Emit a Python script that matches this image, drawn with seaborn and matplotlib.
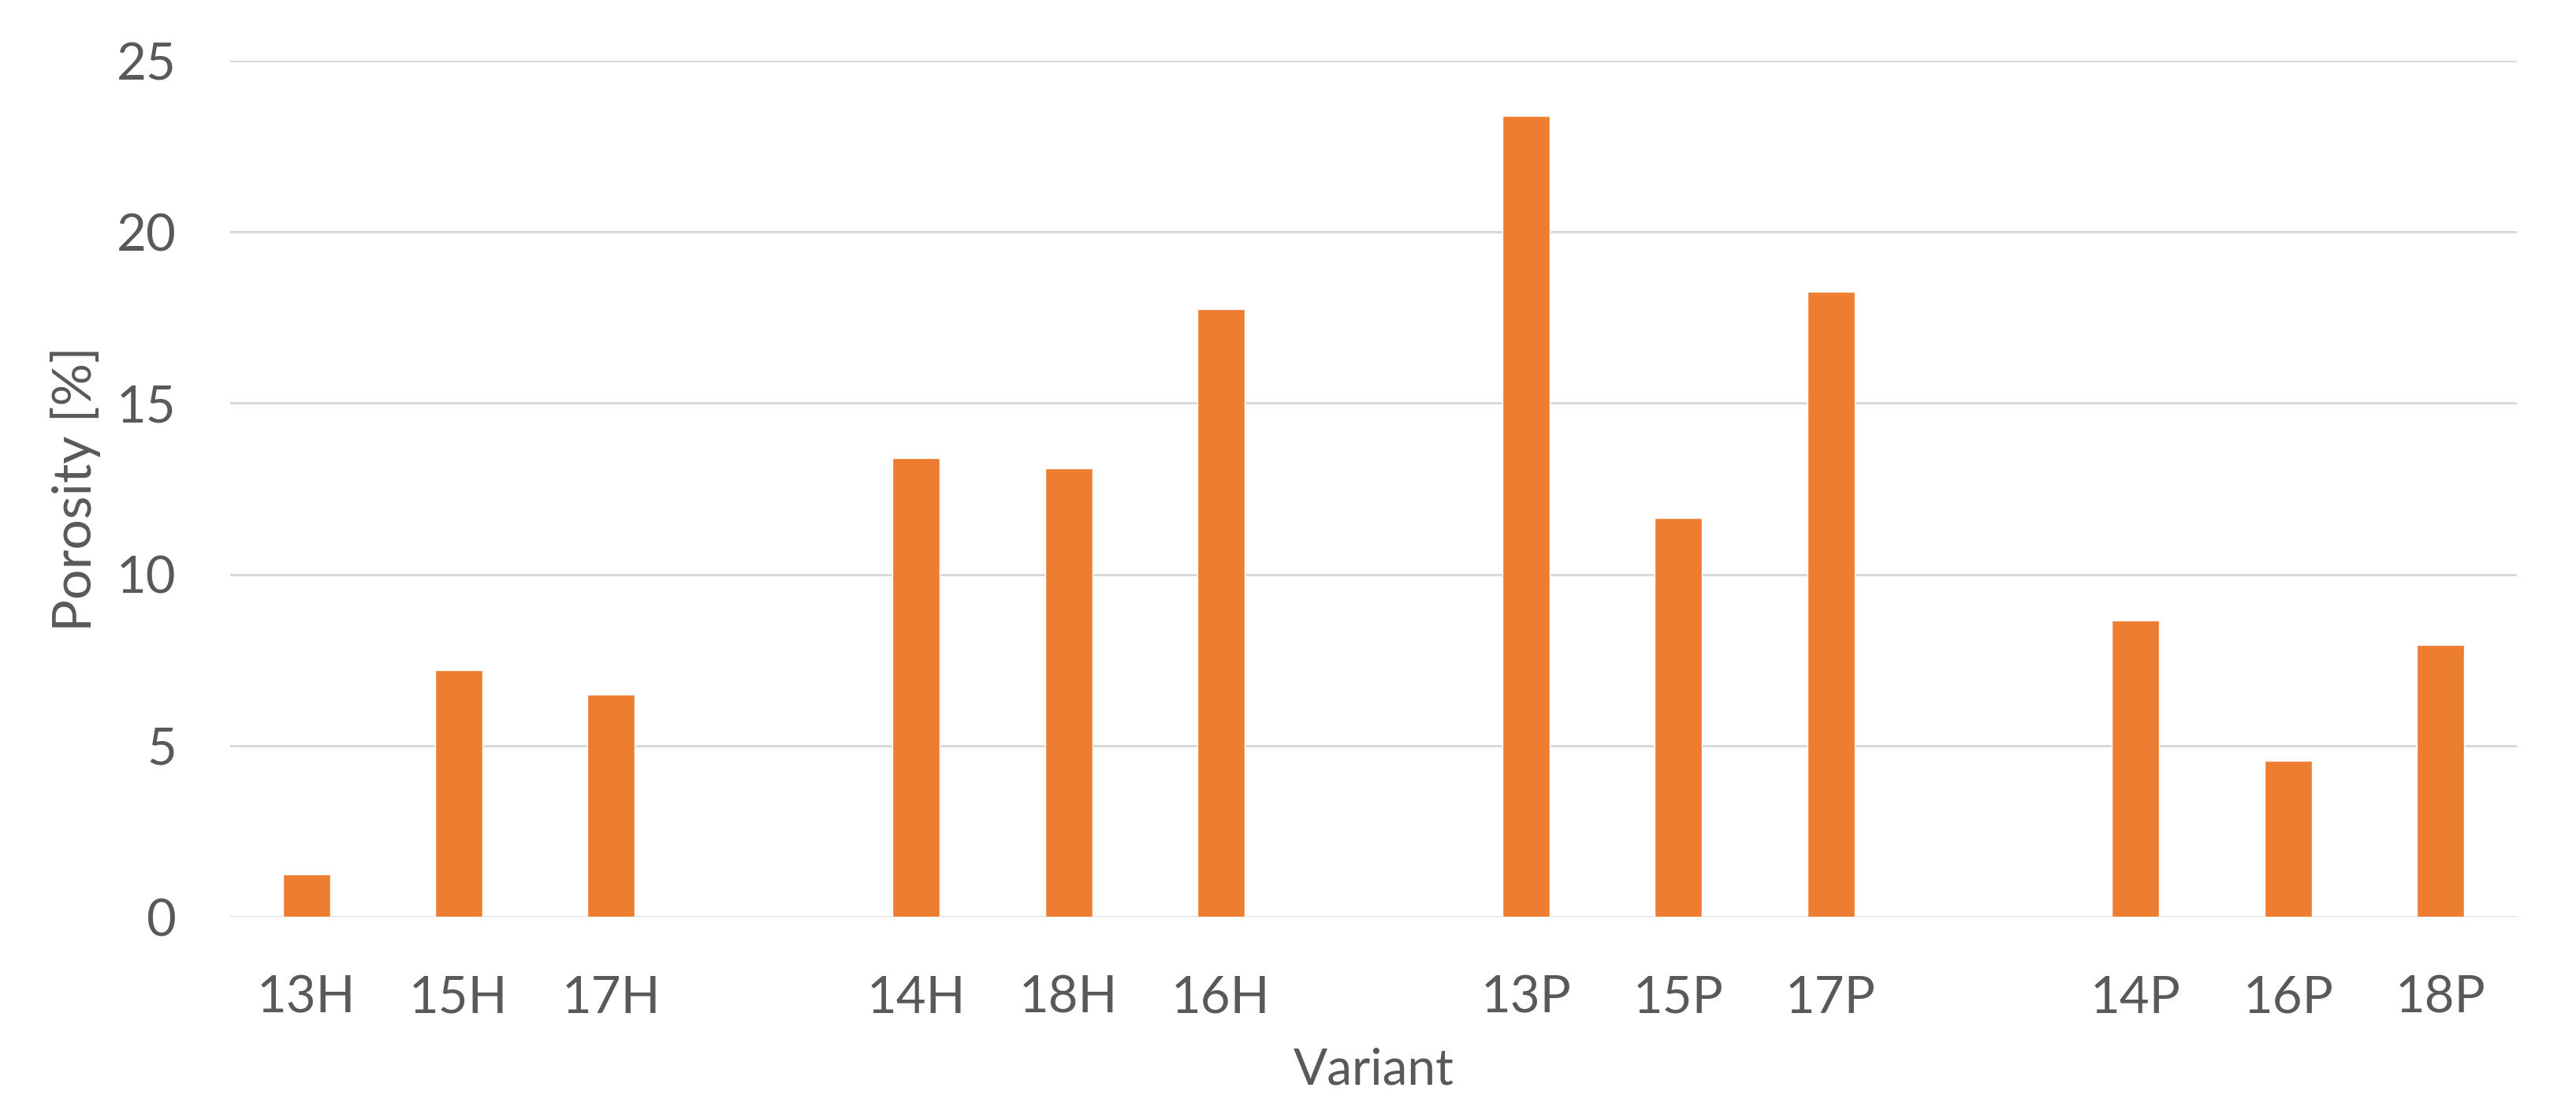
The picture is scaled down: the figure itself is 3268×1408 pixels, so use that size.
import pandas as pd
import numpy as np
import matplotlib
matplotlib.use("Agg")
import matplotlib.pyplot as plt
import seaborn as sns

# Values
variants = ['13H', '15H', '17H', '14H', '18H', '16H',
            '13P', '15P', '17P', '14P', '16P', '18P']
porosity = [1.25, 7.2, 6.5, 13.4, 13.1, 17.75,
            23.4, 11.65, 18.25, 8.65, 4.55, 7.95]

# Category order with an empty slot between the groups
order = ['13H', '15H', '17H', 'gap1',
         '14H', '18H', '16H', 'gap2',
         '13P', '15P', '17P', 'gap3',
         '14P', '16P', '18P']

df = pd.DataFrame({"Variant": variants, "Porosity": porosity})

sns.set_style("white")
plt.rcParams['font.family'] = ['Lato', 'DejaVu Sans']

text_color = '#595959'
fig = plt.figure(figsize=(32.68, 14.08), dpi=100)
ax = fig.add_axes([0.0893, 0.174, 0.8877, 0.7713])

sns.barplot(data=df, x="Variant", y="Porosity", order=order,
            color='#ED7D31', saturation=1, width=0.31, ax=ax, errorbar=None)

ax.set_ylim(0, 25)
ax.set_xlim(-0.5, len(order) - 0.5)
ax.set_yticks(np.arange(0, 26, 5))
ax.yaxis.grid(True, color='#D9D9D9', linewidth=2.2)
ax.set_axisbelow(True)
for s in ax.spines.values():
    s.set_visible(False)

ax.set_xticks(range(len(order)))
ax.set_xticklabels(['' if o.startswith('gap') else o for o in order])
ax.tick_params(axis='x', length=0, pad=53, labelsize=47, labelcolor=text_color)
ax.tick_params(axis='y', length=0, pad=49, labelsize=47, labelcolor=text_color)

ax.set_xlabel("Variant", fontsize=46, color=text_color, labelpad=24)
ax.set_ylabel("Porosity [%]", fontsize=49, color=text_color, labelpad=14)

fig.savefig("out.png", dpi=100, facecolor='white')
